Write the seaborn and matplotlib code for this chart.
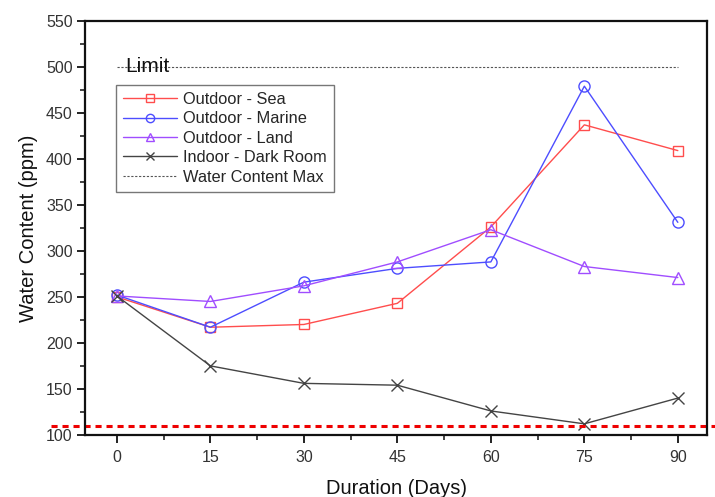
import matplotlib
matplotlib.use("Agg")
import matplotlib.pyplot as plt
import matplotlib.transforms as mtransforms
import seaborn as sns
import pandas as pd
from matplotlib.ticker import MultipleLocator

days = [0, 15, 30, 45, 60, 75, 90]
sea = [250, 217, 220, 243, 326, 437, 409]
marine = [252, 217, 266, 281, 288, 479, 331]
land = [251, 245, 262, 288, 323, 283, 271]
indoor = [251, 175, 156, 154, 126, 112, 140]
limit_value = 500
min_value = 110

sns.set_theme(style="ticks")
plt.rcParams['font.family'] = ['Liberation Sans', 'DejaVu Sans']

fig = plt.figure(figsize=(7.15, 4.97), dpi=100)
ax = fig.add_axes([0.119, 0.125, 0.870, 0.833])

series = [
    ("Outdoor - Sea", sea, "#ff4d4d", "s", 7.5),
    ("Outdoor - Marine", marine, "#4d4dff", "o", 8),
    ("Outdoor - Land", land, "#a04dff", "^", 8.5),
    ("Indoor - Dark Room", indoor, "#444444", "x", 8),
]
for name, vals, col, mk, ms in series:
    df = pd.DataFrame({"Days": days, "Water": vals})
    sns.lineplot(data=df, x="Days", y="Water", ax=ax, color=col, marker=mk,
                 markersize=ms, mfc="none", mec=col, mew=1.0,
                 lw=1.0, label=name)

ax.plot([days[0], days[-1]], [limit_value, limit_value], ls=(0, (2, 1.5)),
        color="#555555", lw=0.8, label="Water Content Max")
trans = mtransforms.blended_transform_factory(fig.transFigure, ax.transData)
ax.plot([51 / 715, 1.0], [min_value, min_value], transform=trans,
        color="#ee0000", ls=(0, (2, 1.6)), lw=2.2, clip_on=False)
ax.text(1.4, limit_value, "Limit", fontsize=15, va="center", ha="left",
        color="#111111")

ax.set_xlim(-5.1, 94.7)
ax.set_ylim(100, 550)
ax.set_xticks(days)
ax.xaxis.set_minor_locator(MultipleLocator(7.5))
ax.yaxis.set_major_locator(MultipleLocator(50))
ax.yaxis.set_minor_locator(MultipleLocator(25))
ax.tick_params(which="major", direction="out", length=6, width=1.3,
               labelsize=11.5, labelcolor="#333333", color="#111111", pad=3)
ax.tick_params(which="minor", direction="out", length=3.5, width=1.1,
               color="#111111")
ax.tick_params(axis="x", pad=5)
for s in ax.spines.values():
    s.set_linewidth(1.6)
    s.set_color("#111111")
ax.set_xlabel("Duration (Days)", fontsize=14.5, labelpad=10, color="#111111")
ax.set_ylabel("Water Content (ppm)", fontsize=14.5, labelpad=6, color="#111111")

leg = ax.legend(loc="upper left", bbox_to_anchor=(0.050, 0.845), frameon=True,
                fancybox=False, edgecolor="#555555", fontsize=11.8,
                handlelength=3.3, borderpad=0.42, labelspacing=0.27,
                handletextpad=0.35, borderaxespad=0)
leg.get_frame().set_linewidth(1.0)
for h in leg.legend_handles:
    try:
        h.set_markersize(6)
    except AttributeError:
        pass

fig.savefig("out.png", dpi=100)
